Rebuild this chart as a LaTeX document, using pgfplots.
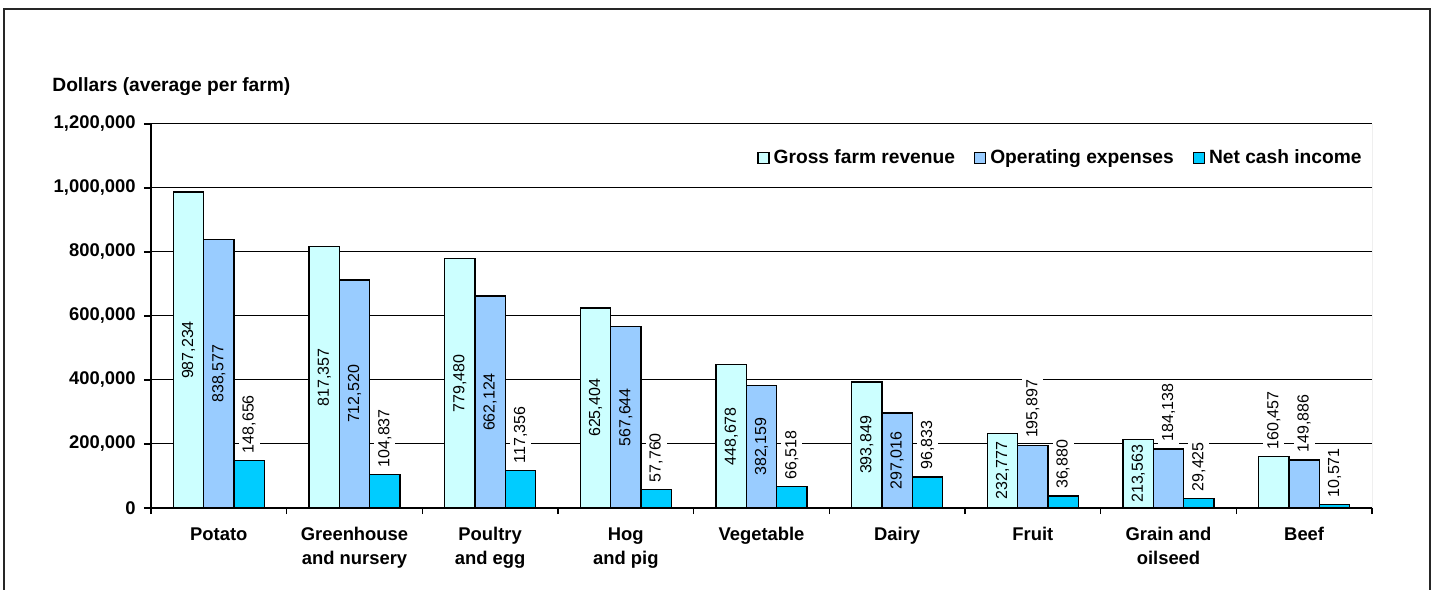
\documentclass[border=0pt]{standalone}
\usepackage{pgfplots}
\pgfplotsset{compat=1.18}
\usepackage{pgfplotstable}
\usepackage{fontspec}
\setmainfont{Liberation Sans}

\definecolor{grossc}{HTML}{CCFFFF}
\definecolor{opexc}{HTML}{99CCFF}
\definecolor{netc}{HTML}{00CCFF}

% in = 1: label sits in the middle of the bar; in = 0: label above the bar
\pgfplotstableread{
x v lbl in
0 987234 987,234 1
1 817357 817,357 1
2 779480 779,480 1
3 625404 625,404 1
4 448678 448,678 1
5 393849 393,849 1
6 232777 232,777 1
7 213563 213,563 1
8 160457 160,457 0
}\gross

\pgfplotstableread{
x v lbl in
0 838577 838,577 1
1 712520 712,520 1
2 662124 662,124 1
3 567644 567,644 1
4 382159 382,159 1
5 297016 297,016 1
6 195897 195,897 0
7 184138 184,138 0
8 149886 149,886 0
}\opex

\pgfplotstableread{
x v lbl in
0 148656 148,656 0
1 104837 104,837 0
2 117356 117,356 0
3 57760 57,760 0
4 66518 66,518 0
5 96833 96,833 0
6 36880 36,880 0
7 29425 29,425 0
8 10571 10,571 0
}\net

\newcommand\lblfont{\fontsize{8}{9}\selectfont}
\newcommand\bfont{\bfseries\fontsize{9.2}{12}\selectfont}
\newcommand\lgfont{\bfseries\fontsize{9.6}{12}\selectfont}

\pgfplotsset{
  barstyle/.style={ybar, bar width=0.2233, draw=black, line width=0.75pt, fill=#1,
    legend image code/.code={\draw[##1, line width=0.6pt] (0pt,-2.75pt) rectangle (5.5pt,2.75pt);}},
  inlbl/.style={only marks, mark=none, forget plot, nodes near coords,
    point meta=explicit symbolic, restrict expr to domain={\thisrow{in}}{1:1},
    every node near coord/.style={xshift=#1, rotate=90, anchor=center, inner sep=0pt, font=\lblfont}},
  outlbl/.style={only marks, mark=none, forget plot, nodes near coords,
    point meta=explicit symbolic, restrict expr to domain={\thisrow{in}}{0:0},
    every node near coord/.style={xshift=#1, yshift=1.5pt, rotate=90, anchor=west, fill=white, inner sep=2pt, font=\lblfont}},
}

\begin{document}
\begin{tikzpicture}
\useasboundingbox (0,0) rectangle (717.5pt,294.5pt);
% chart area frame
\draw[line width=0.75pt, black!85] (2pt,-5pt) -- (2pt,290pt) -- (715pt,290pt) -- (715pt,-5pt);
\node[anchor=west, font=\lgfont, inner sep=0pt] at (26pt,251pt) {Dollars (average per farm)};
\begin{axis}[
  at={(75.5pt,40.5pt)}, anchor=south west,
  scale only axis, width=610.5pt, height=192pt,
  xmin=-0.5, xmax=8.5, ymin=0, ymax=1200000,
  axis x line*=bottom, axis y line*=left,
  axis line style={black, line width=0.6pt},
  ytick={0,200000,...,1200000},
  scaled y ticks=false,
  /pgf/number format/.cd, fixed, 1000 sep={,}, assume math mode=true, /pgfplots/.cd,
  yticklabel style={font=\bfont, inner sep=0pt, xshift=-4pt},
  ymajorgrids, grid style={black, line width=0.5pt},
  tick align=outside,
  major tick length=3.5pt, minor tick length=3pt,
  xtick={0,...,8},
  major x tick style={draw=none},
  minor xtick={-0.5,0.5,...,8.5},
  minor x tick style={black, line width=0.6pt},
  y tick style={black, line width=0.6pt},
  xticklabels={Potato, {Greenhouse\\and nursery}, {Poultry\\and egg}, {Hog\\and pig}, Vegetable, Dairy, Fruit, {Grain and\\oilseed}, Beef},
  xticklabel style={font=\bfont, align=center, inner sep=0pt, yshift=-6pt},
  legend style={at={(rel axis cs:1.0,0.9115)}, anchor=east, draw=none, fill=none,
    legend columns=3, font=\lgfont,
    /tikz/every even column/.append style={column sep=7.5pt}},
]
\addplot[barstyle=grossc, bar shift=-0.2233] table[x=x, y=v] {\gross};
\addplot[barstyle=opexc, bar shift=0] table[x=x, y=v] {\opex};
\addplot[barstyle=netc, bar shift=0.2233] table[x=x, y=v] {\net};
\legend{Gross farm revenue, Operating expenses, Net cash income}

\addplot[inlbl=-15.15pt] table[x=x, y expr=\thisrow{v}/2, meta=lbl] {\gross};
\addplot[outlbl=-15.15pt] table[x=x, y=v, meta=lbl] {\gross};
\addplot[inlbl=0pt] table[x=x, y expr=\thisrow{v}/2, meta=lbl] {\opex};
\addplot[outlbl=0pt] table[x=x, y=v, meta=lbl] {\opex};
\addplot[outlbl=15.15pt] table[x=x, y=v, meta=lbl] {\net};

\draw[black!50, line width=0.5pt] (rel axis cs:1,0) -- (rel axis cs:1,1);
\end{axis}
\end{tikzpicture}
\end{document}
